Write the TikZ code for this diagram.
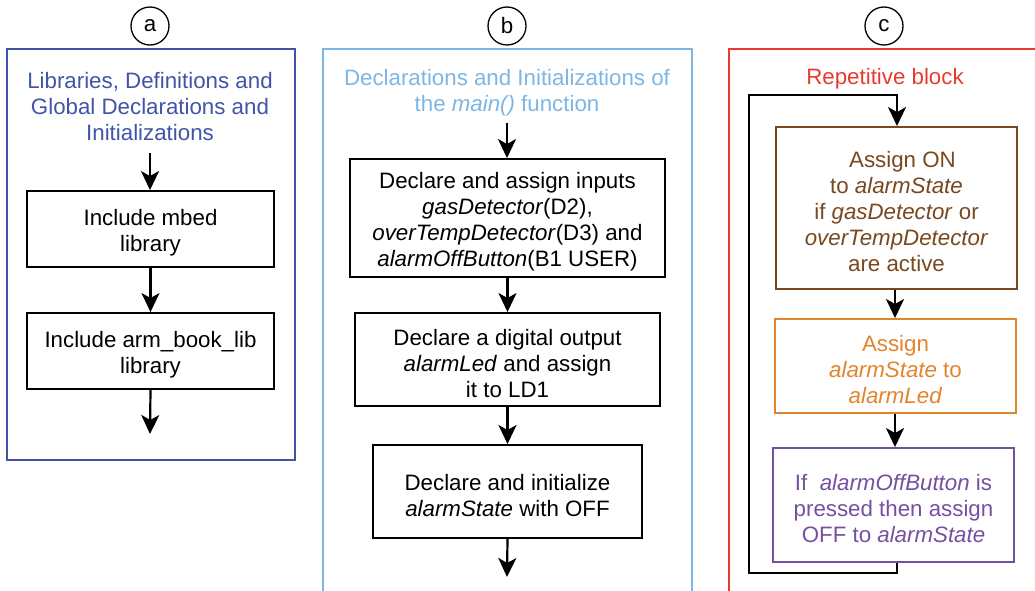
\documentclass[tikz,border=0pt]{standalone}
\usepackage{fontspec}
\setmainfont{Liberation Sans}
\usetikzlibrary{arrows.meta}
\definecolor{pa}{RGB}{64,85,168}
\definecolor{pb}{RGB}{125,182,227}
\definecolor{pc}{RGB}{233,58,46}
\definecolor{cbrown}{RGB}{120,72,30}
\definecolor{corange}{RGB}{226,132,44}
\definecolor{cpurple}{RGB}{118,80,160}
\newcommand\tsh{\rule{0pt}{24pt}}
\begin{document}
\begin{tikzpicture}[x=1pt,y=-1pt,
  every node/.style={font=\fontsize{22.3}{26}\selectfont},
  stepbox/.style={draw, line width=1.9pt, inner sep=0pt, align=center},
  label circ/.style={circle, draw, line width=1.3pt, minimum size=38pt, inner sep=0pt},
  title/.style={align=center, inner sep=0pt},
  flow/.style={-{Stealth[length=19pt,width=18pt,inset=5pt]}, line width=2.2pt},
  panel/.style={line width=1.6pt}]
\useasboundingbox (0,0) rectangle (1035,591);

% panels
\draw[panel, pa] (7,49) rectangle (295,460);
\draw[panel, pb] (323,600) -- (323,49) -- (692,49) -- (692,600);
\draw[panel, pc] (729,600) -- (729,49) -- (1040,49);

% labels
\node[label circ] (la) at (150,26) {a};
\node[label circ] (lb) at (507,26) {b};
\node[label circ] (lc) at (884,26) {c};

% panel a
\node[title, text=pa] (ta) at (150,107) {Libraries, Definitions and\\Global Declarations and\\Initializations};
\coordinate (sa) at (150,153);
\node[stepbox, minimum width=247pt, minimum height=76pt] (a1) at (150.5,229) {\tsh Include mbed\\library};
\node[stepbox, minimum width=247pt, minimum height=76pt] (a2) at (150.5,351) {\tsh Include arm\_book\_lib\\library};
\coordinate (ea) at (150,434);
\draw[flow] (sa) -- (sa |- a1.north);
\draw[flow] (a1) -- (a2);
\draw[flow] (a2.south) -- (ea);

% panel b
\node[title, text=pb] (tb) at (507,93) {Declarations and Initializations of\\the \textit{main()} function};
\coordinate (sb) at (507,123);
\node[stepbox, minimum width=315pt, minimum height=118pt] (b1) at (507.5,218) {\tsh Declare and assign inputs\\\textit{gasDetector}(D2),\\\textit{overTempDetector}(D3) and\\\textit{alarmOffButton}(B1 USER)};
\node[stepbox, minimum width=305pt, minimum height=93pt] (b2) at (507.5,359.5) {\tsh Declare a digital output\\\textit{alarmLed} and assign\\it to LD1};
\node[stepbox, minimum width=269pt, minimum height=93pt] (b3) at (507.5,491.5) {\tsh Declare and initialize\\\textit{alarmState} with OFF};
\coordinate (eb) at (507,577);
\draw[flow] (sb) -- (sb |- b1.north);
\draw[flow] (b1) -- (b2);
\draw[flow, line width=2.8pt] (b2) -- (b3);
\draw[flow] (b3.south) -- (eb);

% panel c
\node[title, text=pc] (tc) at (885,79) {Repetitive block};
\node[stepbox, draw=cbrown, text=cbrown, minimum width=241pt, minimum height=162pt] (c1) at (896.5,208) {\tsh\hspace*{12pt}Assign ON\\to \textit{alarmState}\\if \textit{gasDetector} or\\\textit{overTempDetector}\\are active};
\node[stepbox, draw=corange, text=corange, minimum width=241pt, minimum height=94pt] (c2) at (895.5,366) {\tsh Assign\\\textit{alarmState} to\\\textit{alarmLed}};
\node[stepbox, draw=cpurple, text=cpurple, minimum width=241pt, minimum height=114pt] (c3) at (893.5,505) {\tsh If\ \ \textit{alarmOffButton} is\\pressed then assign\\OFF to \textit{alarmState}};
\coordinate (lt) at (897,95);
\coordinate (ltl) at (749,95);
\coordinate (lbl) at (749,573);
\coordinate (lbr) at (897,573);
\draw[flow] (lbr |- c3.south) -- (lbr) -- (lbl) -- (ltl) -- (lt) -- (lt |- c1.north);
\draw[flow] (c1.south -| 895,0) -- (895,0 |- c2.north);
\draw[flow] (c2.south -| 895,0) -- (895,0 |- c3.north);
\end{tikzpicture}
\end{document}
